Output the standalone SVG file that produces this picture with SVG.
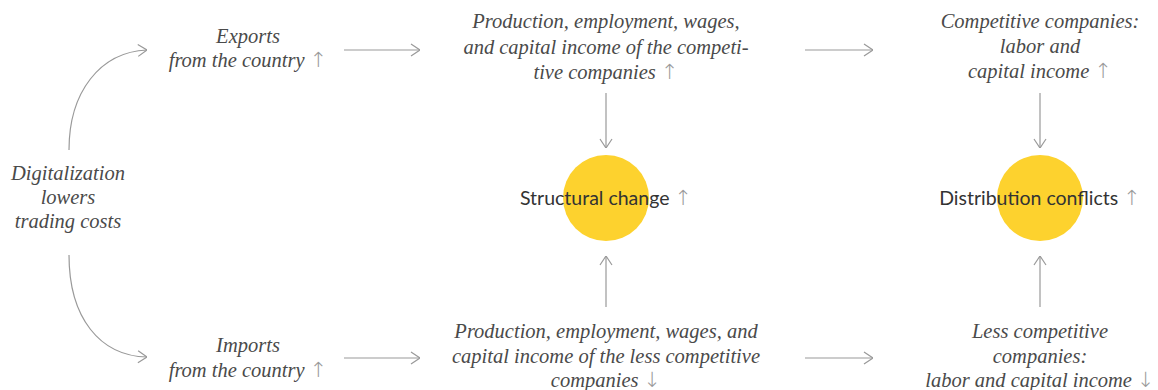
<svg xmlns="http://www.w3.org/2000/svg" width="1158" height="390" viewBox="0 0 1158 390">
  <style>
    .lbl { font-family: "Liberation Serif", serif; font-style: italic; font-size: 20.5px; fill: #4a4a4a; text-anchor: middle; }
    .hub { font-family: Lato, "Liberation Sans", sans-serif; font-size: 19.5px; fill: #333; text-anchor: middle; }
    .tr { font-family: "DejaVu Sans", sans-serif; font-style: normal; font-weight: 200; font-size: 21px; fill: #9a9a9a; }
    .con { fill: none; stroke: #999; stroke-width: 1.2; marker-end: url(#head); }
    .dot { fill: #FDD22E; }
  </style>
  <defs>
    <marker id="head" viewBox="0 0 10 14" refX="10" refY="7" markerWidth="10" markerHeight="14" markerUnits="userSpaceOnUse" orient="auto">
      <path d="M1,1 L10,7 L1,13" fill="none" stroke="#999" stroke-width="1.2"/>
    </marker>
  </defs>

  <!-- connectors -->
  <g id="connectors">
    <path class="con" d="M69,150 C69,92 100,52 147,50"/>
    <path class="con" d="M69,255 C69,318 100,356 147,357"/>
    <path class="con" d="M344,50 L420,50"/>
    <path class="con" d="M805,50 L873,50"/>
    <path class="con" d="M344,358 L420,358"/>
    <path class="con" d="M805,358 L873,358"/>
    <path class="con" d="M606,93 L606,148"/>
    <path class="con" d="M606,307 L606,256"/>
    <path class="con" d="M1040,93 L1040,148"/>
    <path class="con" d="M1040,307 L1040,256"/>
  </g>

  <g id="digitalization">
    <text class="lbl" x="68" y="180">Digitalization</text>
    <text class="lbl" x="68" y="204">lowers</text>
    <text class="lbl" x="68" y="228">trading costs</text>
  </g>

  <g id="exports">
    <text class="lbl" x="248" y="43">Exports</text>
    <text class="lbl" x="248" y="67">from the country <tspan class="tr">↑</tspan></text>
  </g>

  <g id="imports">
    <text class="lbl" x="248" y="352">Imports</text>
    <text class="lbl" x="248" y="377">from the country <tspan class="tr">↑</tspan></text>
  </g>

  <g id="competitive-output">
    <text class="lbl" x="606" y="28">Production, employment, wages,</text>
    <text class="lbl" x="606" y="54">and capital income of the competi-</text>
    <text class="lbl" x="606" y="79">tive companies <tspan class="tr">↑</tspan></text>
  </g>

  <g id="less-competitive-output">
    <text class="lbl" x="606" y="338">Production, employment, wages, and</text>
    <text class="lbl" x="606" y="363">capital income of the less competitive</text>
    <text class="lbl" x="606" y="387">companies <tspan class="tr">↓</tspan></text>
  </g>

  <g id="competitive-income">
    <text class="lbl" x="1040" y="28">Competitive companies:</text>
    <text class="lbl" x="1040" y="53">labor and</text>
    <text class="lbl" x="1040" y="78">capital income <tspan class="tr">↑</tspan></text>
  </g>

  <g id="less-competitive-income">
    <text class="lbl" x="1040" y="338">Less competitive</text>
    <text class="lbl" x="1040" y="363">companies:</text>
    <text class="lbl" x="1040" y="387">labor and capital income <tspan class="tr">↓</tspan></text>
  </g>

  <g id="structural-change">
    <circle class="dot" cx="606" cy="198" r="43"/>
    <text class="hub" x="606" y="205">Structural change <tspan class="tr">↑</tspan></text>
  </g>

  <g id="distribution-conflicts">
    <circle class="dot" cx="1040" cy="198" r="43"/>
    <text class="hub" x="1040" y="205">Distribution conflicts <tspan class="tr">↑</tspan></text>
  </g>
</svg>
